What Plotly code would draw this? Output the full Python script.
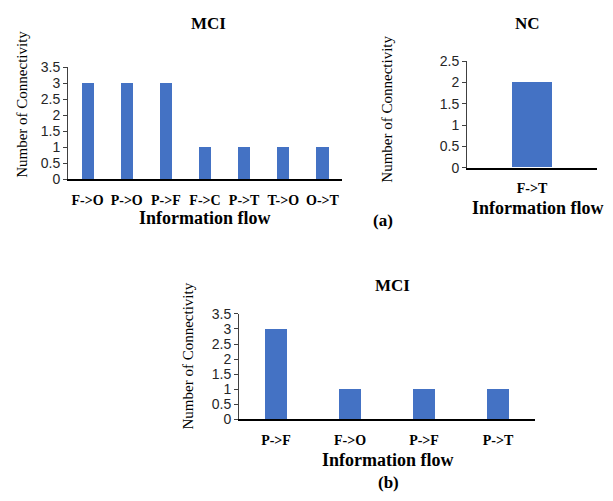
import plotly.graph_objects as go

# Data
mci_a_labels = ["F->O", "P->O", "P->F", "F->C", "P->T", "T->O", "O->T"]
mci_a_values = [3, 3, 3, 1, 1, 1, 1]
nc_labels = ["F->T"]
nc_values = [2]
mci_b_labels = ["P->F", "F->O", "P->F", "P->T"]
mci_b_values = [3, 1, 1, 1]

W, H = 613, 501
BAR = "#4472C4"
SERIF = "Liberation Serif, Times New Roman, serif"
SANS = "Liberation Sans, Arial, sans-serif"

def px(x):
    return x / W

def py(y):
    return 1 - y / H

fig = go.Figure()

panels = [
    ("x", "y", mci_a_labels, mci_a_values, (68, 342), (177, 61), 3.5),
    ("x2", "y2", nc_labels, nc_values, (467, 597), (165, 55), 2.5),
    ("x3", "y3", mci_b_labels, mci_b_values, (239, 535), (425, 316), 3.5),
]

for i, (xa, ya, labels, vals, (x0, x1), (yb, yt), ymax) in enumerate(panels):
    idx = list(range(len(labels)))
    fig.add_trace(go.Bar(x=idx, y=vals, xaxis=xa, yaxis=ya, width=0.31,
                         marker=dict(color=BAR, line=dict(width=0)),
                         showlegend=False, hoverinfo="skip"))
    sfx = "" if i == 0 else str(i + 1)
    fig.layout["xaxis" + sfx] = dict(
        domain=[px(x0), px(x1)], anchor=ya, range=[-0.5, len(labels) - 0.5],
        tickvals=idx, ticktext=["<b>%s</b>" % t for t in labels],
        showgrid=False, zeroline=False,
        showline=True, linecolor="black", linewidth=1.5,
        ticks="outside", ticklen=7, tickcolor="rgba(0,0,0,0)",
        tickfont=dict(family=SERIF, size=14, color="black"),
        fixedrange=True)
    fig.layout["yaxis" + sfx] = dict(
        domain=[py(yb), py(yt)], anchor=xa, range=[0, ymax], dtick=0.5,
        showgrid=False, zeroline=False, showline=True, linecolor="#404040",
        linewidth=1, ticks="outside", ticklen=4, tickcolor="#404040",
        tickfont=dict(family=SANS, size=14, color="#262626"),
        fixedrange=True)

ann = []
def text(x, y, s, size, bold=False, angle=0, family=SERIF):
    ann.append(dict(x=px(x), y=py(y), xref="paper", yref="paper",
                    text=("<b>%s</b>" % s) if bold else s, showarrow=False,
                    textangle=angle, xanchor="center", yanchor="middle",
                    font=dict(family=family, size=size, color="black")))

text(208, 16, "MCI", 17, True)
text(527, 16, "NC", 17, True)
text(392, 287, "MCI", 17, True)
for (x, y) in [(205, 217), (538, 207), (388, 467)]:
    text(x, y, "Information flow", 18, True)
text(22, 100, "Number of Connectivity", 15, angle=-90)
text(387, 105, "Number of Connectivity", 15, angle=-90)
text(188, 360, "Number of Connectivity", 15, angle=-90)
text(383, 220, "(a)", 17, True)
text(388, 490, "(b)", 17, True)

fig.update_layout(width=W, height=H, margin=dict(l=0, r=0, t=0, b=0),
                  paper_bgcolor="white", plot_bgcolor="white",
                  annotations=ann, bargap=0)

fig.write_html("out.html", config={"displayModeBar": False},
               post_script="document.body.style.margin='0';document.body.style.padding='0';")
